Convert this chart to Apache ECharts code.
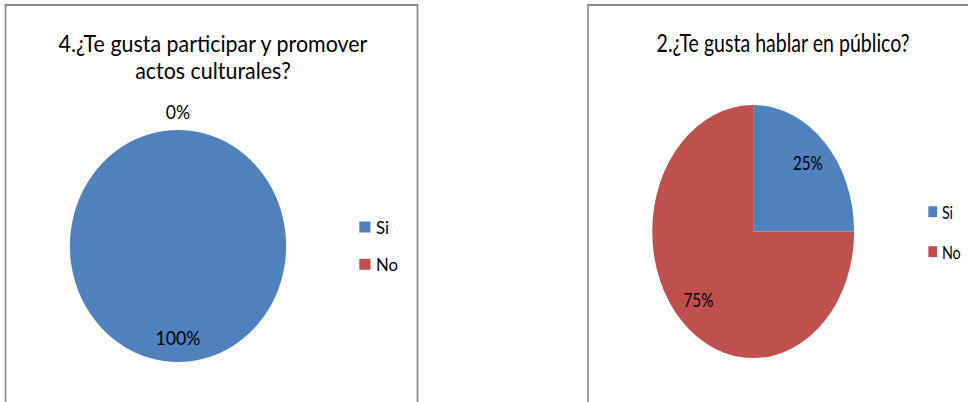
<!DOCTYPE html>
<html>
<head>
<meta charset="utf-8">
<script src="https://cdn.jsdelivr.net/npm/echarts@6.0.0/dist/echarts.min.js"></script>
<style>
  html, body { margin: 0; padding: 0; background: #fff; width: 968px; height: 402px; overflow: hidden; }
  .panel { position: absolute; top: 0; height: 402px; transform-origin: 0 0; }
  #c1 { left: 0; width: 470px; transform: scaleX(0.932); }
  #c2 { left: 580px; width: 490px; transform: scaleX(0.798); }
</style>
</head>
<body>
<div id="c1" class="panel"></div>
<div id="c2" class="panel"></div>
<script>
// ---- data ----
const categories = ['Si', 'No'];
const chart1Values = [100, 0];
const chart2Values = [25, 75];
const chart1Title = '4.¿Te gusta participar y promover\nactos culturales?';
const chart2Title = '2.¿Te gusta hablar en público?';
const colors = ['#4F81BD', '#C0504D'];

const FONT = 'Lato';

function build(cfg) {
  const data = categories.map((c, i) => ({ name: c, value: cfg.values[i] }));
  const series = [{
    type: 'pie',
    center: cfg.center,
    radius: [0, cfg.radius],
    startAngle: 90,
    clockwise: true,
    padAngle: 0,
    silent: true,
    label: { show: false },
    labelLine: { show: false },
    itemStyle: { borderWidth: 0 },
    emphasis: { disabled: true },
    data: data
  }];
  // helper transparent pies that carry the percentage labels
  cfg.labelRings.forEach(ring => {
    series.push({
      type: 'pie',
      center: cfg.center,
      radius: [0, ring.radius],
      startAngle: 90,
      clockwise: true,
      padAngle: 0,
      silent: true,
      z: 5,
      labelLine: { show: false },
      emphasis: { disabled: true },
      itemStyle: { color: 'rgba(0,0,0,0)', borderWidth: 0 },
      label: {
        position: 'inside',
        formatter: '{d}%',
        fontFamily: FONT,
        fontSize: 19,
        color: '#000'
      },
      data: data.map(d => ({
        name: d.name,
        value: d.value,
        label: { show: ring.filter(d.value) }
      }))
    });
  });
  return {
    animation: false,
    color: colors,
    title: {
      text: cfg.title,
      left: cfg.titleX,
      top: cfg.titleTop,
      textAlign: 'center',
      padding: 0,
      textStyle: { fontFamily: FONT, fontSize: cfg.titleSize, fontWeight: 'normal', color: '#000', lineHeight: 27 }
    },
    legend: {
      orient: 'vertical',
      left: cfg.legendX,
      top: cfg.legendTop,
      padding: 0,
      itemGap: cfg.legendGap,
      itemWidth: cfg.markerW,
      itemHeight: 11,
      icon: 'rect',
      selectedMode: false,
      textStyle: { fontFamily: FONT, fontSize: 18, color: '#000', padding: [0, 0, 0, 1] },
      data: categories
    },
    graphic: [{
      type: 'rect',
      silent: true,
      shape: cfg.border,
      style: { fill: null, stroke: '#898989', lineWidth: cfg.borderW }
    }],
    series: series
  };
}

const c1 = echarts.init(document.getElementById('c1'), null, { renderer: 'svg' });
c1.setOption(build({
  values: chart1Values,
  title: chart1Title,
  titleX: 228.5,
  titleTop: 29.5,
  titleSize: 23,
  center: [191, 246],
  radius: 116,
  labelRings: [
    { radius: 178, filter: v => v > 0 },
    { radius: 262, filter: v => v === 0 }
  ],
  legendX: 385.5,
  legendTop: 218,
  legendGap: 19.3,
  markerW: 12,
  border: { x: 5.9, y: 5, width: 442, height: 430 },
  borderW: 1.8
}));

const c2 = echarts.init(document.getElementById('c2'), null, { renderer: 'svg' });
c2.setOption(build({
  values: chart2Values,
  title: chart2Title,
  titleX: 254.4,
  titleTop: 29.5,
  titleSize: 24.5,
  center: [217, 231.6],
  radius: 126.5,
  labelRings: [
    { radius: 188, filter: v => v > 0 }
  ],
  legendX: 436.5,
  legendTop: 202.7,
  legendGap: 22,
  markerW: 11,
  border: { x: 10, y: 5, width: 600, height: 430 },
  borderW: 2
}));
</script>
</body>
</html>
